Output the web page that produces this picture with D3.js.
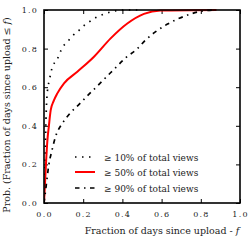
<!DOCTYPE html>
<html>
<head>
<meta charset="utf-8">
<script src="https://cdn.jsdelivr.net/npm/d3@7"></script>
<style>
  body { margin: 0; background: #fff; }
  svg { display: block; }
  text { font-family: "DejaVu Serif", "Liberation Serif", serif; }
</style>
</head>
<body>
<svg id="graph" width="248" height="240"></svg>
<script>
// courbes : fraction de jours (x) et probabilite cumulee (y)
var x10 = [0, 0.004, 0.007, 0.01, 0.015, 0.02, 0.026, 0.043, 0.065, 0.094, 0.12, 0.145, 0.18, 0.204, 0.238, 0.272, 0.306, 0.34, 0.374, 0.42, 0.5];
var y10 = [0, 0.15, 0.3, 0.43, 0.55, 0.6, 0.63, 0.706, 0.74, 0.806, 0.836, 0.865, 0.896, 0.919, 0.943, 0.965, 0.979, 0.99, 0.997, 1.0, 1.0];

var x50 = [0, 0.005, 0.01, 0.017, 0.025, 0.034, 0.05, 0.068, 0.102, 0.17, 0.255, 0.34, 0.425, 0.51, 0.595, 0.88];
var y50 = [0, 0.1, 0.2, 0.32, 0.4, 0.48, 0.53, 0.568, 0.62, 0.68, 0.758, 0.853, 0.93, 0.98, 0.997, 1.0];

var x90 = [0, 0.01, 0.025, 0.04, 0.06, 0.094, 0.133, 0.179, 0.226, 0.272, 0.323, 0.37, 0.417, 0.473, 0.519, 0.57, 0.63, 0.69, 0.748, 0.81, 0.87];
var y90 = [0, 0.08, 0.2, 0.27, 0.347, 0.413, 0.465, 0.511, 0.56, 0.606, 0.658, 0.706, 0.753, 0.796, 0.845, 0.888, 0.927, 0.957, 0.979, 0.995, 1.0];

var ticks = [0, 0.2, 0.4, 0.6, 0.8, 1.0];
var legendLabels = ["\u2265 10% of total views", "\u2265 50% of total views", "\u2265 90% of total views"];

var series = [
  {x: x10, y: y10, color: "black", width: 1.7, dash: "1.5,5.5"},
  {x: x50, y: y50, color: "red",   width: 2,   dash: null},
  {x: x90, y: y90, color: "black", width: 1.7, dash: "4.5,4.5,1.5,4.5"}
];

var svg = d3.select("#graph");
var L = 44, R = 240, T = 10, B = 203;

var scaleX = d3.scaleLinear().domain([0, 1]).range([L, R]);
var scaleY = d3.scaleLinear().domain([0, 1]).range([B, T]);
var fmt = d3.format(".1f");

// axes avec graduations vers l'interieur
var gx = svg.append("g").attr("transform", "translate(0," + B + ")")
  .call(d3.axisBottom(scaleX).tickValues(ticks).tickFormat(fmt).tickSizeInner(-4).tickSizeOuter(0).tickPadding(8));
var gy = svg.append("g").attr("transform", "translate(" + L + ",0)")
  .call(d3.axisLeft(scaleY).tickValues(ticks).tickFormat(fmt).tickSizeInner(-4).tickSizeOuter(0).tickPadding(6));
var gt = svg.append("g").attr("transform", "translate(0," + T + ")")
  .call(d3.axisTop(scaleX).tickValues(ticks).tickFormat("").tickSizeInner(-4).tickSizeOuter(0));
var gr = svg.append("g").attr("transform", "translate(" + R + ",0)")
  .call(d3.axisRight(scaleY).tickValues(ticks).tickFormat("").tickSizeInner(-4).tickSizeOuter(0));

svg.selectAll(".domain").remove();
svg.selectAll(".tick line").attr("stroke", "black").attr("stroke-width", 1);
svg.selectAll(".tick text").attr("font-size", 8).attr("fill", "#222")
  .attr("letter-spacing", 1.2)
  .style("font-family", "'DejaVu Serif', serif");

// courbes
svg.append("clipPath").attr("id", "clip").append("rect")
  .attr("x", L).attr("y", T - 1).attr("width", R - L).attr("height", B - T + 2);

var line = d3.line()
  .x(function(d) { return scaleX(d[0]); })
  .y(function(d) { return scaleY(d[1]); })
  .curve(d3.curveMonotoneX);

var gCurves = svg.append("g").attr("clip-path", "url(#clip)");
series.forEach(function(s) {
  var pts = s.x.map(function(v, i) { return [v, s.y[i]]; });
  gCurves.append("path")
    .attr("d", line(pts))
    .attr("fill", "none")
    .attr("stroke", s.color)
    .attr("stroke-width", s.width)
    .attr("stroke-dasharray", s.dash);
});

// cadre
svg.append("rect").attr("x", L).attr("y", T).attr("width", R - L).attr("height", B - T)
  .attr("fill", "none").attr("stroke", "black").attr("stroke-width", 1.6);

// legende
var legY = [157, 172, 188];
series.forEach(function(s, i) {
  svg.append("line")
    .attr("x1", 75).attr("x2", 95).attr("y1", legY[i]).attr("y2", legY[i])
    .attr("stroke", s.color).attr("stroke-width", s.width)
    .attr("stroke-dasharray", s.dash);
  svg.append("text")
    .attr("x", 104).attr("y", legY[i] + 3.5)
    .attr("font-size", 9).attr("fill", "#222")
    .text(legendLabels[i]);
});

// titres des axes
var tx = svg.append("text").attr("x", (L + R) / 2 + 20).attr("y", 234)
  .attr("text-anchor", "middle").attr("font-size", 9.5).attr("fill", "#222");
tx.append("tspan").text("Fraction of days since upload - ");
tx.append("tspan").attr("font-style", "italic").text("f");

var ty = svg.append("text").attr("transform", "translate(10,115) rotate(-90)")
  .attr("text-anchor", "middle").attr("font-size", 9.5).attr("fill", "#222");
ty.append("tspan").text("Prob. (Fraction of days since upload \u2264 ");
ty.append("tspan").attr("font-style", "italic").text("f");
ty.append("tspan").text(")");
</script>
</body>
</html>
